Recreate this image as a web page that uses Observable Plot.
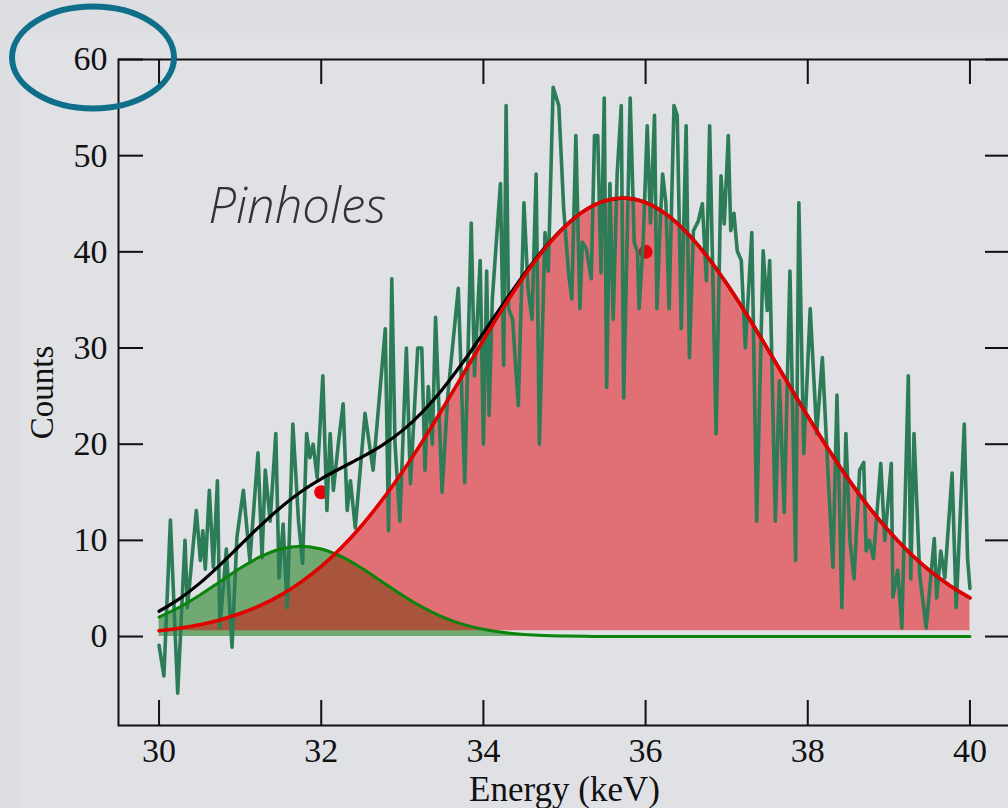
<!DOCTYPE html>
<html><head><meta charset="utf-8">
<script src="https://cdn.jsdelivr.net/npm/d3@7"></script>
<script src="https://cdn.jsdelivr.net/npm/@observablehq/plot@0.6"></script>
<style>
html,body{margin:0;padding:0;background:#dcdee2;overflow:hidden;width:1008px;height:808px;}
#panel{position:absolute;left:20px;top:33px;width:988px;height:775px;background:#e0e1e5;}
#chart{position:absolute;left:0;top:0;width:1040px;height:808px;}
#chart svg{max-width:none !important;width:1040px;height:808px;}
</style></head><body><div id="panel"></div><div id="chart"></div>
<script>
// Measured spectrum (keV, counts)
const energy = [30.00,30.06,30.14,30.23,30.32,30.35,30.46,30.51,30.54,30.57,30.62,30.67,30.72,30.75,30.83,30.90,30.96,31.04,31.12,31.22,31.27,31.31,31.37,31.44,31.48,31.53,31.58,31.65,31.72,31.77,31.82,31.86,31.90,31.95,32.02,32.07,32.11,32.15,32.21,32.27,32.32,32.36,32.42,32.54,32.64,32.79,32.83,32.87,32.91,32.97,33.05,33.10,33.19,33.24,33.28,33.32,33.37,33.41,33.49,33.56,33.69,33.77,33.85,33.89,33.96,34.00,34.04,34.07,34.11,34.21,34.25,34.28,34.31,34.36,34.43,34.50,34.55,34.60,34.65,34.69,34.76,34.80,34.86,34.93,34.99,35.05,35.09,35.14,35.19,35.22,35.27,35.33,35.37,35.41,35.45,35.49,35.52,35.56,35.60,35.65,35.70,35.73,35.81,35.86,35.90,35.92,35.97,36.02,36.06,36.11,36.14,36.18,36.21,36.25,36.29,36.35,36.39,36.44,36.50,36.54,36.59,36.65,36.70,36.75,36.79,36.87,36.93,36.97,37.02,37.05,37.09,37.13,37.18,37.23,37.31,37.37,37.45,37.50,37.53,37.60,37.65,37.71,37.78,37.85,37.89,37.95,38.03,38.11,38.18,38.25,38.31,38.36,38.42,38.47,38.52,38.57,38.64,38.69,38.72,38.76,38.81,38.90,38.95,39.03,39.05,39.11,39.16,39.24,39.27,39.31,39.38,39.46,39.56,39.59,39.64,39.69,39.78,39.83,39.93,39.97,40.00];
const counts = [-0.9,-4.1,12.1,-5.9,10.0,3.0,13.1,7.9,11.0,7.0,15.2,7.2,16.2,0.9,9.1,-1.1,10.3,15.2,7.9,19.1,8.2,17.3,12.0,21.1,6.1,11.7,3.0,22.1,12.0,7.6,21.1,18.6,20.0,16.5,27.1,13.1,21.1,15.2,20.0,24.2,13.1,16.2,11.3,23.2,17.3,32.0,11.0,37.2,20.0,12.0,30.0,15.9,30.0,30.0,17.3,26.0,20.0,33.2,15.0,25.0,36.2,16.0,43.0,27.1,39.1,20.0,38.0,23.0,35.1,47.1,28.2,55.2,34.1,33.0,24.0,45.1,36.2,33.0,48.1,20.0,42.0,38.0,57.1,55.2,44.5,37.8,35.1,52.1,34.1,41.0,40.3,37.2,52.1,52.1,37.8,56.0,25.9,47.1,33.0,48.2,55.2,24.8,56.0,41.0,40.0,34.1,41.0,53.1,43.0,54.2,34.1,43.0,48.1,45.1,34.1,55.2,54.2,32.0,53.1,29.0,42.2,43.2,45.0,37.0,53.1,21.1,47.9,42.9,52.1,42.2,44.0,40.1,39.1,30.0,42.0,12.0,40.1,33.9,39.1,12.0,26.6,12.9,38.0,7.9,45.1,19.0,34.1,21.1,29.0,16.9,7.2,25.1,3.0,21.1,10.0,6.0,17.3,18.1,8.9,10.0,8.1,18.0,10.0,18.0,4.1,6.9,0.9,27.1,6.0,21.1,6.5,0.9,10.2,4.0,8.9,6.1,17.0,3.0,22.1,8.2,5.0];

// Fitted peaks
const fitEnergy = [30.00,30.25,30.50,30.75,31.00,31.25,31.50,31.75,32.00,32.25,32.50,32.75,33.00,33.25,33.50,33.75,34.00,34.25,34.50,34.75,35.00,35.25,35.50,35.75,36.00,36.25,36.50,36.75,37.00,37.25,37.50,37.75,38.00,38.25,38.50,38.75,39.00,39.25,39.50,39.75,40.00];
const redFit = [0.60,0.87,1.23,1.73,2.39,3.23,4.31,5.66,7.29,9.25,11.55,14.18,17.11,20.32,23.74,27.27,30.82,34.25,37.44,40.26,42.57,44.29,45.31,45.59,45.13,43.93,42.07,39.62,36.70,33.44,29.97,26.42,22.91,19.53,16.38,13.51,10.97,8.76,6.87,5.31,4.03];
const greenFit = [2.03,3.05,4.30,5.70,7.10,8.30,9.11,9.40,9.11,8.30,7.10,5.70,4.30,3.05,2.03,1.27,0.75,0.41,0.21,0.10,0.05,0.02,0,0,0,0,0,0,0,0,0,0,0,0,0,0,0,0,0,0,0];
const redBase = 0.6;

const markerEnergy = [32, 36];
const markerCounts = [15, 40];

const xTicks = [30, 32, 34, 36, 38, 40];
const yTicks = [0, 10, 20, 30, 40, 50, 60];
const xDomain = [29.5, 40.5];
const yDomain = [-9.25, 60];

const spectrum = energy.map((e, i) => ({e, c: counts[i]}));
const fit = fitEnergy.map((e, i) => ({e, red: redFit[i], green: greenFit[i], total: redFit[i] + greenFit[i]}));
const markers = markerEnergy.map((e, i) => ({e, c: markerCounts[i]}));

const serif = "'Liberation Serif', 'DejaVu Serif', serif";
const axisColor = "#111";
const tickLen = 25;

const plot = Plot.plot({
  width: 1040, height: 808,
  marginLeft: 118, marginTop: 59, marginBottom: 83, marginRight: 30,
  style: {background: "transparent", overflow: "visible", maxWidth: "none", fontFamily: serif, fontSize: "34px", color: "#111"},
  x: {domain: xDomain},
  y: {domain: yDomain},
  marks: [
    Plot.areaY(fit, {x: "e", y1: 0, y2: "green", fill: "rgb(0,115,0)", fillOpacity: 0.5, curve: "catmull-rom"}),
    Plot.areaY(fit, {x: "e", y1: redBase, y2: "red", fill: "rgb(224,0,5)", fillOpacity: 0.5, curve: "catmull-rom"}),
    Plot.dot(markers, {x: "e", y: "c", r: 7, fill: "#e8000a"}),
    Plot.line(spectrum, {x: "e", y: "c", stroke: "#2c7c58", strokeWidth: 3.6}),
    Plot.line(fit, {x: "e", y: "green", stroke: "#0a840a", strokeWidth: 3, curve: "catmull-rom"}),
    Plot.line(fit, {x: "e", y: "total", stroke: "#000", strokeWidth: 3.2, curve: "catmull-rom"}),
    Plot.line(fit, {x: "e", y: "red", stroke: "#e00000", strokeWidth: 3.6, curve: "catmull-rom"}),
    Plot.frame({stroke: axisColor, strokeWidth: 2}),
    Plot.ruleX(xTicks, {x: d => d, y1: yDomain[0], y2: yDomain[0], insetBottom: tickLen, stroke: axisColor, strokeWidth: 2}),
    Plot.ruleX(xTicks, {x: d => d, y1: yDomain[1], y2: yDomain[1], insetBottom: -tickLen, stroke: axisColor, strokeWidth: 2}),
    Plot.ruleY(yTicks, {y: d => d, x1: xDomain[0], x2: xDomain[0], insetRight: -tickLen, stroke: axisColor, strokeWidth: 2}),
    Plot.ruleY(yTicks, {y: d => d, x1: xDomain[1], x2: xDomain[1], insetRight: tickLen, stroke: axisColor, strokeWidth: 2}),
    Plot.axisX({ticks: xTicks, tickSize: 0, tickPadding: 12, label: null, fontSize: 34, fontFamily: serif, fill: "#111"}),
    Plot.axisY({ticks: yTicks, tickSize: 0, tickPadding: 11, label: null, fontSize: 34, fontFamily: serif, fill: "#111"}),
    Plot.text(["Energy (keV)"], {frameAnchor: "bottom", textAnchor: "middle", lineAnchor: "middle", dy: 64, fontSize: 35, fontFamily: serif, fill: "#111"}),
    Plot.text(["Counts"], {frameAnchor: "left", textAnchor: "middle", lineAnchor: "middle", dx: -76, rotate: -90, fontSize: 33, fontFamily: serif, fill: "#111"}),
    Plot.text(["Pinholes"], {frameAnchor: "top-left", textAnchor: "start", lineAnchor: "middle", dx: 90, dy: 148, fontFamily: "'Open Sans', 'Noto Sans', sans-serif", fontStyle: "italic", fontWeight: 300, fontSize: 49, letterSpacing: "1px", fill: "#333"})
  ]
});

d3.select(plot).append("ellipse")
  .attr("cx", 93).attr("cy", 57.5).attr("rx", 81).attr("ry", 51)
  .attr("fill", "none").attr("stroke", "#0f6f8b").attr("stroke-width", 6);

document.getElementById("chart").appendChild(plot);
</script>
</body></html>
